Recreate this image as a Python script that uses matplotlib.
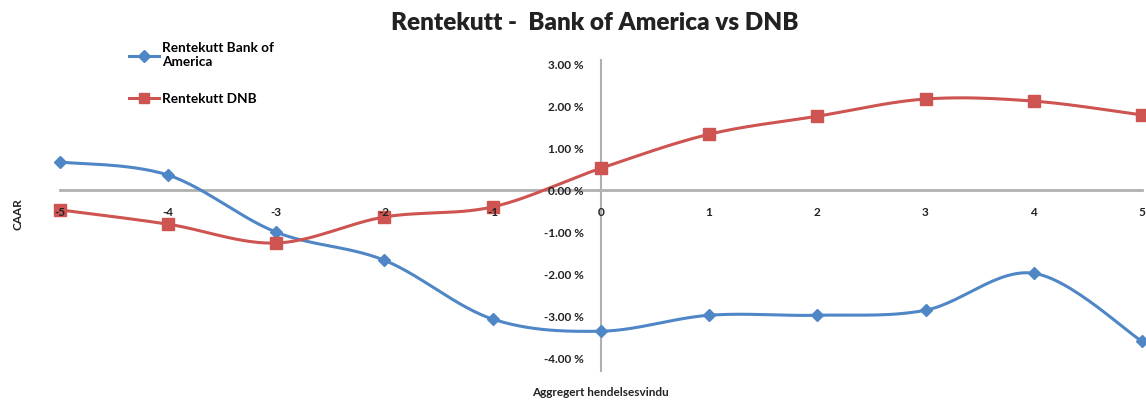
import numpy as np
import matplotlib.pyplot as plt
from matplotlib.lines import Line2D

plt.rcParams['font.family'] = ['Lato', 'DejaVu Sans']

# Event window and CAAR values (%)
window = [-5, -4, -3, -2, -1, 0, 1, 2, 3, 4, 5]
bank_of_america = [0.67, 0.36, -1.0, -1.67, -3.07, -3.36, -2.98, -2.98, -2.86, -1.98, -3.6]
dnb = [-0.47, -0.81, -1.26, -0.64, -0.40, 0.52, 1.33, 1.76, 2.17, 2.12, 1.79]
yticks = [3, 2, 1, 0, -1, -2, -3, -4]

blue = '#4F86C6'
red = '#CD5450'


def smooth(x, y, n=30):
    # Excel-like smoothed line: Catmull-Rom through the points as cubic Beziers
    p = np.column_stack([x, y]).astype(float)
    p = np.vstack([p[0], p, p[-1]])
    out = []
    t = np.linspace(0, 1, n)[:, None]
    for i in range(1, len(p) - 2):
        p0, p3 = p[i], p[i + 1]
        c1 = p0 + (p[i + 1] - p[i - 1]) / 6
        c2 = p3 - (p[i + 2] - p[i]) / 6
        seg = (1 - t) ** 3 * p0 + 3 * (1 - t) ** 2 * t * c1 + 3 * (1 - t) * t ** 2 * c2 + t ** 3 * p3
        out.append(seg)
    out = np.vstack(out)
    return out[:, 0], out[:, 1]


fig = plt.figure(figsize=(11.46, 4.01), dpi=100)
ax = fig.add_axes([0.052, 0.107, 0.9445, 0.733])

sx, sy = smooth(window, bank_of_america)
ax.plot(sx, sy, color=blue, lw=2.2, zorder=3, clip_on=False)
ax.plot(window, bank_of_america, 'D', color=blue, ms=6, zorder=4, clip_on=False)
sx, sy = smooth(window, dnb)
ax.plot(sx, sy, color=red, lw=2.2, zorder=3, clip_on=False)
ax.plot(window, dnb, 's', color=red, ms=8, zorder=4, clip_on=False)

ax.set_xlim(-5, 5)
ax.set_ylim(-4, 3)
for s in ['top', 'right']:
    ax.spines[s].set_visible(False)
ax.spines['left'].set_position(('data', 0))
ax.spines['bottom'].set_position(('data', 0))
ax.spines['left'].set_color('#b0b0b0')
ax.spines['bottom'].set_color('#b0b0b0')
ax.spines['left'].set_linewidth(1.5)
ax.spines['bottom'].set_linewidth(2)
ax.spines['left'].set_zorder(1)
ax.spines['bottom'].set_zorder(1)
ax.spines['left'].set_bounds(-4.3, 3.1)

ax.set_xticks(window)
ax.set_xticklabels([str(w) for w in window])
ax.set_yticks(yticks)
ax.set_yticklabels(['%.2f %%' % v for v in yticks])
ax.tick_params(axis='both', length=0, labelsize=8.5, colors='#222222')
ax.tick_params(axis='x', pad=12)
ax.tick_params(axis='y', pad=12)
ax.xaxis.set_zorder(5)
ax.yaxis.set_zorder(5)
for lbl in ax.get_xticklabels() + ax.get_yticklabels():
    lbl.set_fontweight('bold')

fig.text(0.519, 0.942, 'Rentekutt -  Bank of America vs DNB', ha='center', va='center',
         fontsize=17.5, fontweight='heavy', color='#222222')
fig.text(0.524, 0.022, 'Aggregert hendelsesvindu', ha='center', va='center',
         fontsize=8.5, fontweight='bold', color='#222222')
fig.text(0.016, 0.465, 'CAAR', ha='center', va='center', rotation=90,
         fontsize=8.5, fontweight='bold', color='#222222')

handles = [Line2D([], [], color=blue, lw=2.2, marker='D', ms=6),
           Line2D([], [], color=red, lw=2.2, marker='s', ms=7)]
ax.legend(handles, ['Rentekutt Bank of\nAmerica', 'Rentekutt DNB'],
          loc='upper left', bbox_to_anchor=(0.102, 0.925), bbox_transform=fig.transFigure,
          frameon=False, labelspacing=1.8, handlelength=2.2,
          handletextpad=0.2, prop={'weight': 'bold', 'size': 9.8})

fig.savefig('out.png', dpi=100)
